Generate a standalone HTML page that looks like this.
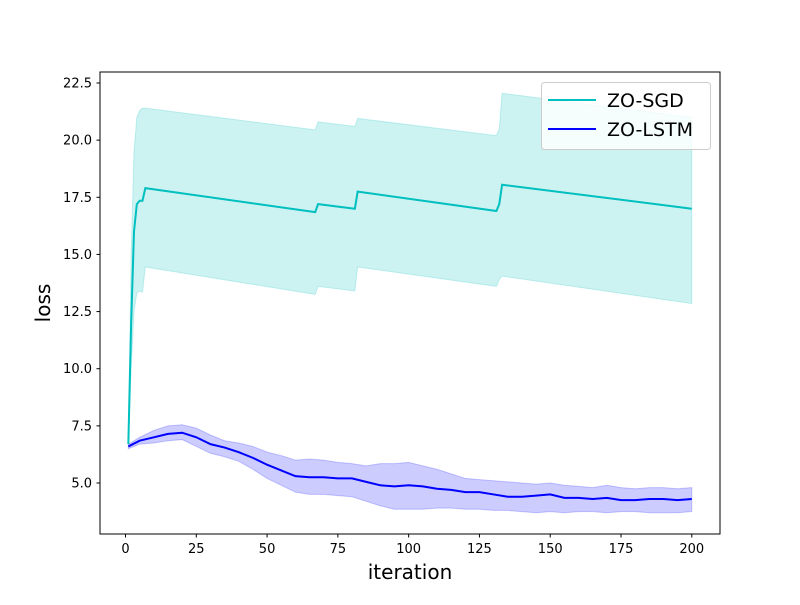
<!DOCTYPE html>
<html><head><meta charset="utf-8">
<style>
body{margin:0;background:#fff;}
svg text{font-family:"DejaVu Sans","Liberation Sans",sans-serif;fill:#000;}
</style></head>
<body>
<svg id="chart" width="800" height="600" xmlns="http://www.w3.org/2000/svg">
<rect width="800" height="600" fill="#fff"/>
<g id="plot"></g>
<rect x="100" y="72" width="620" height="462" fill="none" stroke="#000" stroke-width="1"/>
<g id="ticks"></g>
<text x="410" y="579" font-size="20" text-anchor="middle">iteration</text>
<text x="0" y="0" font-size="20" text-anchor="middle" transform="translate(50,303) rotate(-90)">loss</text>
<g>
<rect x="541.5" y="82.5" width="169" height="67" rx="3" fill="#fff" fill-opacity="0.8" stroke="#ccc"/>
<line x1="548" y1="100" x2="596" y2="100" stroke="#00bfbf" stroke-width="2"/>
<text x="607" y="107" font-size="19">ZO-SGD</text>
<line x1="548" y1="129" x2="596" y2="129" stroke="#0000ff" stroke-width="2"/>
<text x="607" y="136" font-size="19">ZO-LSTM</text>
</g>
</svg>
<script>
const sgdX=[1,2,3,4,5,6,7,67,68,81,82,131,132,133,200];
const sgdMean=[6.7,12,16,17.2,17.35,17.35,17.9,16.85,17.2,17.0,17.75,16.9,17.2,18.05,17.0];
const sgdUpper=[6.7,15,19.5,21.0,21.3,21.4,21.4,20.45,20.8,20.6,20.95,20.2,20.5,22.05,21.0];
const sgdLower=[6.7,10,12.5,13.3,13.4,13.35,14.45,13.25,13.6,13.4,14.45,13.6,13.9,14.05,12.85];
const lstmX=[1,5,10,15,20,25,30,35,40,45,50,55,60,65,70,75,80,85,90,95,100,105,110,115,120,125,130,135,140,145,150,155,160,165,170,175,180,185,190,195,200];
const lstmMean=[6.6,6.85,7.0,7.15,7.2,7.0,6.7,6.55,6.35,6.1,5.8,5.55,5.3,5.25,5.25,5.2,5.2,5.05,4.9,4.85,4.9,4.85,4.75,4.7,4.6,4.6,4.5,4.4,4.4,4.45,4.5,4.35,4.35,4.3,4.35,4.25,4.25,4.3,4.3,4.25,4.3];
const lstmUpper=[6.7,7.0,7.3,7.5,7.55,7.4,7.1,6.85,6.75,6.6,6.35,6.2,6.0,6.05,6.0,5.9,5.85,5.75,5.85,5.85,5.9,5.75,5.6,5.4,5.2,5.15,5.1,5.05,5.0,4.95,5.0,4.9,4.85,4.8,4.9,4.8,4.75,4.8,4.8,4.75,4.8];
const lstmLower=[6.5,6.7,6.75,6.85,6.9,6.6,6.3,6.15,5.95,5.6,5.2,4.9,4.6,4.5,4.5,4.45,4.4,4.2,4.0,3.85,3.85,3.85,3.9,3.9,3.85,3.85,3.8,3.8,3.75,3.7,3.75,3.7,3.75,3.75,3.7,3.75,3.75,3.7,3.7,3.7,3.75];
const xTicks=[0,25,50,75,100,125,150,175,200];
const yTicks=[5.0,7.5,10.0,12.5,15.0,17.5,20.0,22.5];

const NS="http://www.w3.org/2000/svg";
function sx(v){return 125.5+v*2.8315;}
function sy(v){return 483-(v-5)*22.857;}
const plot=document.getElementById('plot');
function band(xs,lo,hi,color,name){
  let pts=xs.map((x,i)=>sx(x)+','+sy(hi[i]));
  for(let i=xs.length-1;i>=0;i--)pts.push(sx(xs[i])+','+sy(lo[i]));
  const p=document.createElementNS(NS,'polygon');
  p.setAttribute('points',pts.join(' '));
  p.setAttribute('fill',color);p.setAttribute('fill-opacity','0.2');
  p.setAttribute('stroke',color);p.setAttribute('stroke-opacity','0.2');
  
  
  plot.appendChild(p);
}
function line(xs,ys,color,name){
  const p=document.createElementNS(NS,'polyline');
  p.setAttribute('points',xs.map((x,i)=>sx(x)+','+sy(ys[i])).join(' '));
  p.setAttribute('fill','none');p.setAttribute('stroke',color);p.setAttribute('stroke-width','2');
  
  
  plot.appendChild(p);
}
band(sgdX,sgdLower,sgdUpper,'#00bfbf','zo-sgd-band');
band(lstmX,lstmLower,lstmUpper,'#0000ff','zo-lstm-band');
line(sgdX,sgdMean,'#00bfbf','zo-sgd-line');
line(lstmX,lstmMean,'#0000ff','zo-lstm-line');
const tg=document.getElementById('ticks');
xTicks.forEach(v=>{
  const x=sx(v);
  const l=document.createElementNS(NS,'line');
  l.setAttribute('x1',x);l.setAttribute('x2',x);l.setAttribute('y1',534);l.setAttribute('y2',537.5);l.setAttribute('stroke','#000');
  
  
  tg.appendChild(l);
  const t=document.createElementNS(NS,'text');
  t.setAttribute('x',x);t.setAttribute('y',553);t.setAttribute('font-size','13');t.setAttribute('text-anchor','middle');
  t.textContent=v;
  
  
  tg.appendChild(t);
});
yTicks.forEach(v=>{
  const y=sy(v);
  const l=document.createElementNS(NS,'line');
  l.setAttribute('x1',96.5);l.setAttribute('x2',100);l.setAttribute('y1',y);l.setAttribute('y2',y);l.setAttribute('stroke','#000');
  
  
  tg.appendChild(l);
  const t=document.createElementNS(NS,'text');
  t.setAttribute('x',92);t.setAttribute('y',y+4.5);t.setAttribute('font-size','13');t.setAttribute('text-anchor','end');
  t.textContent=v.toFixed(1);
  
  
  tg.appendChild(t);
});
</script>
</body></html>
